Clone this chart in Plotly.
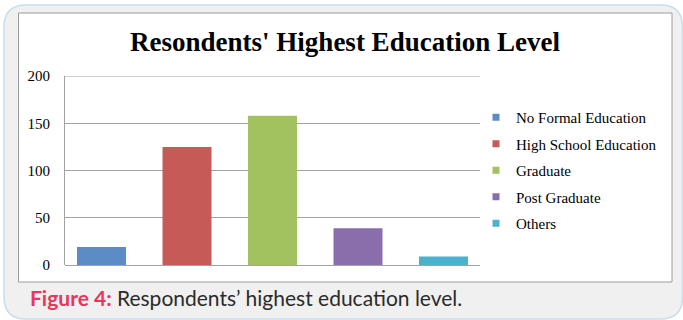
import plotly.graph_objects as go

# Survey data: respondents by highest education level
categories = ["No Formal Education", "High School Education", "Graduate",
              "Post Graduate", "Others"]
counts = [19, 125, 158, 39, 9]
colors = ["#5b8cc6", "#c65a57", "#a2c15f", "#8a6dab", "#4cb1cc"]
y_ticks = [0, 50, 100, 150, 200]

W, H = 683, 320
# plot-area edges in pixels
L, R, T, B = 65, 480, 76, 265


def px(x):
    return (x - L) / (R - L)


def py(y):
    return (B - y) / (B - T)


def rounded_rect(x0, y0, x1, y1, r):
    a0, a1 = px(x0), px(x1)
    b0, b1 = py(y0), py(y1)
    rx = r / (R - L)
    ry = r / (B - T)
    return (f"M{a0 + rx},{b0} L{a1 - rx},{b0} Q{a1},{b0} {a1},{b0 - ry} "
            f"L{a1},{b1 + ry} Q{a1},{b1} {a1 - rx},{b1} "
            f"L{a0 + rx},{b1} Q{a0},{b1} {a0},{b1 + ry} "
            f"L{a0},{b0 - ry} Q{a0},{b0} {a0 + rx},{b0} Z")


fig = go.Figure()
for cat, val, col in zip(categories, counts, colors):
    fig.add_trace(go.Bar(
        x=[cat], y=[val], name=cat, showlegend=False,
        marker=dict(color=col, line=dict(width=0)), hoverinfo="x+y",
    ))
# small square swatches for the legend
for i, (cat, col) in enumerate(zip(categories, colors)):
    fig.add_trace(go.Scatter(
        x=[None], y=[None], mode="markers", name=cat, legendgroup=f"g{i}",
        marker=dict(symbol="square", size=7, color=col), showlegend=True,
    ))

serif = "Liberation Serif, Times New Roman, serif"

fig.update_layout(
    width=W, height=H,
    margin=dict(l=L, r=W - R, t=T, b=H - B),
    paper_bgcolor="white",
    plot_bgcolor="rgba(0,0,0,0)",
    barmode="overlay",
    bargap=0.427,
    showlegend=True,
    title=dict(
        text="<b>Resondents' Highest Education Level</b>",
        x=345 / W, xref="container", xanchor="center",
        y=1 - 42 / H, yref="container", yanchor="middle",
        font=dict(family=serif, size=27, color="black"),
    ),
    legend=dict(
        x=px(476), y=py(101), xanchor="left", yanchor="top",
        font=dict(family=serif, size=15, color="black"),
        bgcolor="rgba(0,0,0,0)", borderwidth=0,
        tracegroupgap=4, itemclick=False, itemdoubleclick=False,
    ),
    xaxis=dict(
        categoryorder="array", categoryarray=categories,
        range=[-0.427, 4.427],
        showticklabels=False, ticks="", showgrid=False,
        showline=False, zeroline=False,
    ),
    yaxis=dict(
        range=[0, 200], tickvals=y_ticks, ticks="",
        showgrid=True, gridcolor="#a3a3a3", gridwidth=1,
        showline=True, linecolor="#a3a3a3", linewidth=1,
        zeroline=True, zerolinecolor="#a3a3a3", zerolinewidth=1,
        tickfont=dict(family=serif, size=15, color="black"),
        ticklabelstandoff=11,
    ),
    shapes=[
        # rounded outer panel
        dict(type="path", xref="paper", yref="paper", layer="below",
             path=rounded_rect(4, 5, 682.5, 319, 22),
             fillcolor="#f0f0f0", line=dict(color="#c6deed", width=1.5)),
        # white chart frame
        dict(type="rect", xref="paper", yref="paper", layer="below",
             x0=px(18.5), x1=px(672), y0=py(282), y1=py(13),
             fillcolor="white", line=dict(color="#9c9c9c", width=1)),
        # top gridline at the axis maximum
        dict(type="line", xref="paper", yref="y", layer="below",
             x0=0, x1=1, y0=y_ticks[-1], y1=y_ticks[-1],
             line=dict(color="#a3a3a3", width=1)),
    ],
    annotations=[
        dict(
            text="<span style='color:#e8365d'><b>Figure 4:</b></span> "
                 "Respondents’ highest education level.",
            xref="paper", yref="paper", x=px(28), y=py(297),
            xanchor="left", yanchor="middle", showarrow=False,
            font=dict(family="Lato, Open Sans, sans-serif", size=21,
                      color="#2b2b2b"),
        )
    ],
)

fig.write_html("out.html")
